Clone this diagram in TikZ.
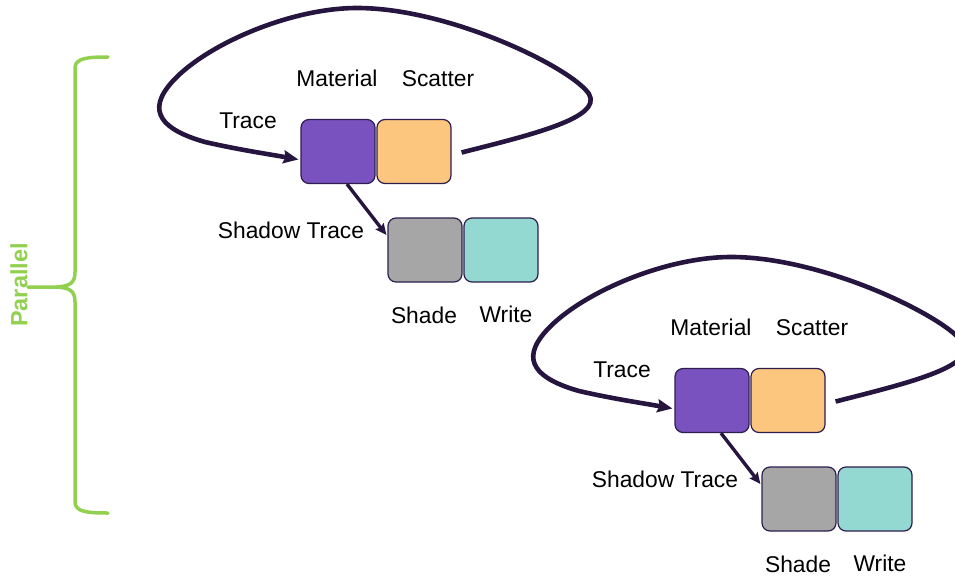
\documentclass[tikz,border=0pt]{standalone}
\usepackage{fontspec}
\setmainfont{Liberation Sans}
\usetikzlibrary{arrows.meta,calc}
\definecolor{inkdark}{HTML}{26163F}
\definecolor{boxedge}{HTML}{2E1E4F}
\definecolor{tracefill}{HTML}{7A52C0}
\definecolor{scatterfill}{HTML}{FCC67E}
\definecolor{shadefill}{HTML}{A6A6A6}
\definecolor{writefill}{HTML}{93D9D1}
\definecolor{bracegreen}{HTML}{92D050}
\tikzset{
  stagebox/.style={draw=boxedge, line width=1.2pt, rounded corners=8pt,
    minimum width=74pt, minimum height=64pt, inner sep=0pt},
  lbl/.style={anchor=base, inner sep=0pt, font=\fontsize{22.8}{27}\selectfont},
  loopline/.style={draw=inkdark, line width=4.6pt,
    -{Stealth[length=15pt,width=13pt,inset=2pt]}},
  shadowline/.style={draw=inkdark, line width=3.4pt,
    -{Stealth[length=11pt,width=10pt,inset=1.5pt]}},
  pics/passgroup/.style={code={
    % primary rays: trace + material, then scatter back around
    \node[stagebox, fill=tracefill]   (-trace)   at (338,151.5) {};
    \node[stagebox, fill=scatterfill] (-scatter) at (414,151.5) {};
    % shadow rays: shade + write
    \node[stagebox, fill=shadefill]   (-shade)   at (425,250) {};
    \node[stagebox, fill=writefill]   (-write)   at (501,250) {};
    \node[lbl] (-lmat)  at (337,86)  {Material};
    \node[lbl] (-lsca)  at (438,86)  {Scatter};
    \node[lbl] (-ltr)   at (248,128) {Trace};
    \node[lbl] (-lsh)   at (291,238) {Shadow Trace};
    \node[lbl] (-lshd)  at (424,323) {Shade};
    \node[lbl] (-lwr)   at (506,322) {Write};
    \draw[loopline] ($(-scatter.east)+(10,1)$)
      .. controls (530,135) and (603,118) .. (589,94)
      .. controls (572,68) and (450,8) .. (357,8)
      .. controls (290,8) and (205,45) .. (172,82)
      .. controls (145,112) and (163,130) .. (205,142)
      .. controls (240,150) and (268,154) .. ($(-trace.west)+(-2,8)$);
    \draw[shadowline] ($(-trace.south)+(9,0)$) -- ($(-shade.west)+(-1,-15)$);
  }}
}
\begin{document}
\begin{tikzpicture}[x=1pt,y=-1pt]
  \useasboundingbox (0,0) rectangle (955,578);
  \clip (0,0) rectangle (955,578);
  \fill[white] (0,0) rectangle (955,578);
  % curly brace grouping the two passes
  \draw[bracegreen, line width=3.5pt, line cap=round]
    (108,57) .. controls (88,57) and (75,58) .. (75,68)
    -- (75,272) .. controls (75,283) and (70,286) .. (57,287)
    -- (28,287);
  \draw[bracegreen, line width=3.5pt, line cap=round]
    (108,513) .. controls (88,513) and (75,512) .. (75,502)
    -- (75,302) .. controls (75,291) and (70,288) .. (57,287);
  \node[rotate=90, text=bracegreen, inner sep=0pt,
    font=\bfseries\fontsize{23.5}{27}\selectfont] (par) at (19,285) {Parallel};
  \pic (g1) at (0,0) {passgroup};
  \pic (g2) at (374,249) {passgroup};
\end{tikzpicture}
\end{document}
